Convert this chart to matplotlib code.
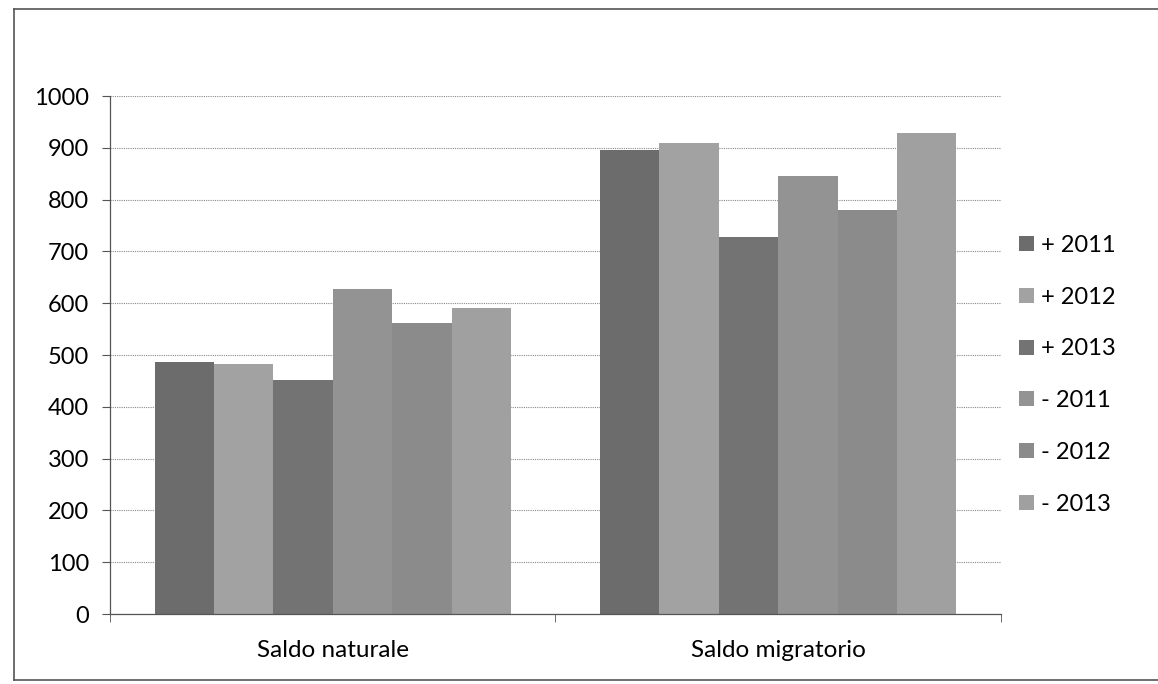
import numpy as np
import matplotlib
matplotlib.use("Agg")
import matplotlib.pyplot as plt
from matplotlib.lines import Line2D

plt.rcParams['font.family'] = ['Lato', 'DejaVu Sans']

categories = ["Saldo naturale", "Saldo migratorio"]
series_labels = ["+ 2011", "+ 2012", "+ 2013", "- 2011", "- 2012", "- 2013"]
values = [
    [487, 895],   # + 2011
    [483, 910],   # + 2012
    [451, 728],   # + 2013
    [628, 845],   # - 2011
    [561, 780],   # - 2012
    [590, 928],   # - 2013
]
series_colors = ["#6c6c6c", "#a2a2a2", "#737373", "#939393", "#8b8b8b", "#a0a0a0"]

fig = plt.figure(figsize=(11.58, 6.84), dpi=100)
ax = fig.add_axes([0.095, 0.1023, 0.7694, 0.7573])

x = np.arange(len(categories))
n = len(series_labels)
bar_w = 0.8 / n
bars = []
for i in range(n):
    b = ax.bar(x - 0.4 + bar_w * (i + 0.5), values[i], width=bar_w,
               color=series_colors[i], edgecolor='none', zorder=2, label=series_labels[i])
    bars.append(b)

ax.set_xlim(-0.5, 1.5)
ax.set_ylim(0, 1000)
ax.set_yticks(range(0, 1001, 100))
ax.yaxis.grid(True, color='#8a8a8a', linestyle=(0, (1, 1)), linewidth=0.8, zorder=0)
ax.set_axisbelow(True)

ax.set_xticks(x)
ax.set_xticklabels(categories, fontsize=17.5)
ax.xaxis.set_minor_locator(matplotlib.ticker.FixedLocator([-0.5, 0.5, 1.5]))
ax.tick_params(axis='x', which='major', length=0, pad=19)
ax.tick_params(axis='x', which='minor', length=6, color='#555555', direction='out')
ax.tick_params(axis='y', length=6, color='#555555', labelsize=17, pad=9)

for side in ['top', 'right']:
    ax.spines[side].set_visible(False)
for side in ['left', 'bottom']:
    ax.spines[side].set_color('#555555')
    ax.spines[side].set_linewidth(0.9)

leg = ax.legend(loc='center left', bbox_to_anchor=(0.862, 0.452),
                bbox_transform=fig.transFigure, frameon=False, fontsize=17,
                handlelength=0.6, handleheight=0.6, handletextpad=0.3,
                labelspacing=1.3)

# outer chart frame (scan shows left, top and bottom edges)
frame = dict(color='#555555', linewidth=1.2, transform=fig.transFigure)
fig.add_artist(Line2D([0.012, 0.012], [0.006, 0.987], **frame))
fig.add_artist(Line2D([0.012, 1.0], [0.987, 0.987], **frame))
fig.add_artist(Line2D([0.012, 1.0], [0.006, 0.006], **frame))

fig.savefig("out.png", dpi=100)
